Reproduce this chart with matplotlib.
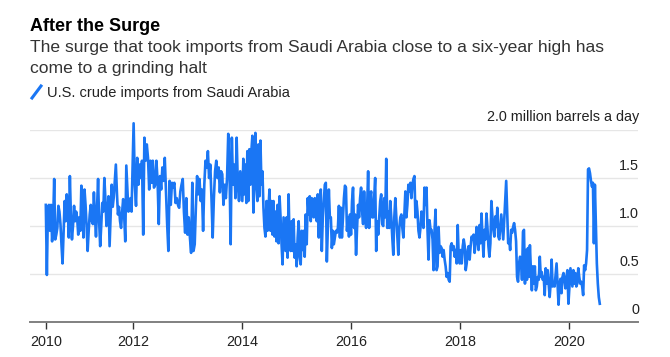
import matplotlib.pyplot as plt
from matplotlib.lines import Line2D
import pandas as pd

plt.rcParams['font.family'] = ['Liberation Sans', 'DejaVu Sans']

# weekly U.S. crude imports from Saudi Arabia, million barrels a day
imports_2010 = [1.22, 0.49, 1.18, 1.22, 0.95, 1.22, 0.84, 1.05, 1.49, 0.86,
                0.91, 0.98, 1.21, 1.15, 1.02, 0.80, 0.61, 0.95, 1.26, 1.05,
                1.33, 1.20, 0.88, 1.52, 1.10, 0.86, 1.00, 1.21, 1.05, 1.15,
                1.08, 0.91, 1.09, 0.95, 1.42, 1.20, 0.88, 1.38, 1.22, 1.00,
                0.74, 0.95, 1.12, 1.22, 1.05, 1.02, 1.35, 1.10, 0.89, 1.20,
                1.49, 1.05, 0.79, 1.00, 1.24, 1.15, 1.50, 1.28, 1.00, 1.12,
                1.31, 0.79, 1.10, 1.43, 1.20, 1.30, 1.47, 1.64, 1.35, 1.12,
                1.20, 1.05, 0.98, 1.15, 1.28, 1.10, 0.84, 1.63, 1.40, 1.15,
                1.20, 1.29, 1.15]
imports_2012 = [2.07, 1.43, 1.21, 1.71, 1.43, 1.64, 1.50, 1.68, 0.91, 1.92,
                1.68, 1.85, 1.71, 1.38, 1.68, 1.45, 1.68, 1.40, 1.43, 1.68,
                1.47, 1.02, 1.52, 1.38, 1.61, 1.47, 1.71, 1.35, 1.02, 0.74,
                1.47, 1.22, 1.45, 1.40, 1.45, 1.24, 1.29, 1.22, 1.19, 1.36,
                1.43, 1.49, 1.15, 0.93, 1.29, 0.91, 1.09, 0.88, 0.72, 1.45,
                0.74, 0.81, 1.21, 1.52, 1.33, 1.49, 1.26, 1.38, 0.95, 1.43,
                1.68, 1.61, 1.78, 1.50, 1.64, 1.29, 0.88, 1.29, 1.57, 1.68,
                1.50, 1.61, 1.35, 1.57, 1.54, 1.22, 1.43, 1.29, 1.50, 1.96,
                1.61, 0.81, 1.92, 1.43, 1.64, 1.29, 1.92, 1.43, 1.26, 1.57]
imports_2014 = [1.26, 1.70, 1.33, 1.64, 1.24, 1.78, 1.26, 1.80, 1.43, 1.78,
                1.94, 1.14, 1.50, 1.97, 1.43, 1.26, 1.85, 1.31, 1.89, 1.43,
                1.57, 1.19, 0.98, 0.89, 1.26, 0.95, 1.19, 1.38, 0.95, 1.26,
                0.91, 1.26, 0.89, 1.15, 0.84, 1.22, 0.82, 1.31, 1.09, 0.81,
                0.60, 1.09, 0.91, 0.74, 1.09, 0.67, 1.33, 0.81, 0.74, 1.05,
                0.74, 1.07, 0.67, 0.81, 0.58, 0.88, 1.05, 0.67, 0.60, 0.95,
                0.75, 0.95, 0.68, 1.12, 0.81, 1.29, 1.12, 1.31, 1.05, 1.29,
                1.26, 1.09, 1.29, 1.26, 1.05, 1.33, 0.88, 1.22, 1.38, 0.74,
                1.09, 1.26, 1.43, 1.45, 0.63, 0.98, 1.38, 1.09, 1.09, 0.77,
                0.95, 0.81, 0.88, 0.95, 0.93, 0.98, 1.21, 0.88, 1.19, 0.88,
                1.09, 1.29, 1.42, 1.40, 0.95, 1.09, 0.89, 1.12]
imports_2016 = [0.91, 1.26, 1.40, 0.98, 1.12, 0.70, 0.98, 1.22, 1.09, 1.29,
                1.40, 1.15, 1.02, 1.36, 1.09, 0.98, 1.19, 1.57, 0.98, 1.29,
                1.36, 1.09, 1.09, 1.29, 1.50, 0.74, 1.05, 0.91, 1.09, 1.26,
                1.33, 1.02, 1.00, 1.29, 1.09, 1.70, 0.98, 1.15, 0.98, 1.26,
                1.09, 0.88, 0.70, 1.09, 1.29, 1.09, 0.88, 0.70, 0.98, 1.09,
                1.12, 0.98, 0.88, 1.12, 1.36, 1.09, 1.22, 1.43, 1.36, 1.45,
                1.29, 1.43, 1.49, 1.52, 1.09, 1.26, 1.15, 0.95, 0.88, 0.98,
                1.15, 1.05, 0.98, 1.40, 1.22, 1.40, 0.96, 0.65, 1.06, 0.96,
                0.96, 0.86, 0.54, 0.96, 1.17, 0.54, 0.58, 0.99, 0.72, 0.79,
                0.77, 0.68, 0.75, 0.65, 0.58, 0.47, 0.51, 0.44, 0.42, 0.79,
                0.82, 0.75, 0.79, 0.68, 0.75, 0.61, 1.01, 0.68, 0.61]
imports_2018 = [0.75, 0.61, 0.79, 0.86, 0.79, 0.54, 0.61, 0.75, 0.79, 0.65,
                0.79, 0.89, 0.86, 0.91, 0.72, 0.82, 0.99, 0.89, 0.75, 1.01,
                0.82, 1.13, 0.89, 0.68, 0.96, 0.86, 1.13, 0.99, 0.79, 0.68,
                0.82, 1.26, 1.10, 0.96, 0.89, 1.10, 0.99, 1.19, 0.89, 0.86,
                0.99, 1.12, 0.99, 0.86, 1.06, 1.24, 1.47, 1.13, 0.82, 0.86,
                0.75, 0.96, 0.93, 0.99, 1.03, 0.96, 0.84, 0.47, 0.42, 0.61,
                0.68, 0.65, 0.44, 0.94, 0.96, 0.40, 0.75, 0.44, 0.77, 0.47,
                0.80, 0.54, 0.33, 0.58, 0.40, 0.58, 0.33, 0.37, 0.47, 0.44,
                0.68, 0.47, 0.52, 0.44, 0.47, 0.28, 0.56, 0.40, 0.54, 0.40,
                0.26, 0.40, 0.65, 0.37, 0.40, 0.37, 0.49, 0.61, 0.40, 0.18,
                0.40, 0.45, 0.30, 0.47, 0.51, 0.44, 0.35, 0.47, 0.54, 0.19]
imports_2020 = [0.37, 0.56, 0.47, 0.37, 0.54, 0.40, 0.51, 0.37, 0.40, 0.56,
                0.47, 0.40, 0.42, 0.37, 0.28, 0.59, 0.54, 0.61, 0.75, 1.59,
                1.60, 1.55, 1.47, 1.41, 1.45, 0.82, 1.43, 1.03, 0.61, 0.40,
                0.26, 0.19]

# first and last week covered by each block
block_start = ['2010-05-28', '2012-01-06', '2014-01-03', '2016-01-01', '2018-01-05', '2020-01-03']
block_end = ['2011-12-23', '2013-12-20', '2015-12-25', '2017-12-29', '2019-12-27', '2020-07-24']
blocks = [imports_2010, imports_2012, imports_2014, imports_2016, imports_2018, imports_2020]

x_ticks = ['2010-05-28', '2012-01-01', '2014-01-01', '2016-01-01', '2018-01-01', '2020-01-01']
x_labels = ['2010', '2012', '2014', '2016', '2018', '2020']
y_ticks = [0, 0.5, 1.0, 1.5, 2.0]
y_labels = ['0', '0.5', '1.0', '1.5', '2.0 million barrels a day']

parts = []
for s, e, vals in zip(block_start, block_end, blocks):
    parts.append(pd.Series(vals, index=pd.date_range(s, e, periods=len(vals))))
df = pd.concat(parts)

blue = '#1a76f4'
W, H = 670, 357

fig = plt.figure(figsize=(W / 100, H / 100), dpi=100)
ax = fig.add_axes([30 / W, 1 - 322 / H, 608 / W, 192 / H])

ax.plot(df.index, df.values, color=blue, lw=1.9, clip_on=False, zorder=3)

ax.set_ylim(0, 2.0)
ax.set_xlim(pd.Timestamp('2010-02-11'), pd.Timestamp('2021-04-06'))
ax.set_yticks(y_ticks)
ax.tick_params(axis='y', length=0, labelleft=False)
ax.grid(axis='y', color='#e6e6e6', lw=1)
ax.set_axisbelow(True)
for side in ['top', 'left', 'right']:
    ax.spines[side].set_visible(False)
ax.spines['bottom'].set_color('#808080')
ax.spines['bottom'].set_linewidth(1.4)
ax.spines['bottom'].set_zorder(4)

ax.set_xticks(pd.to_datetime(x_ticks))
ax.set_xticklabels(x_labels)
ax.tick_params(axis='x', length=5, width=1, color='#333333', labelsize=10.4,
               labelcolor='#222222', pad=4)

for v, lab in zip(y_ticks, y_labels):
    ax.annotate(lab, xy=(1, v), xycoords=('axes fraction', 'data'), xytext=(1, 8.5),
                textcoords='offset pixels', ha='right', va='baseline',
                fontsize=10.4, color='#222222')

# title block
fig.text(30 / W, 1 - 30.7 / H, 'After the Surge', fontsize=13, fontweight='bold',
         color='#000000', va='baseline')
fig.text(30 / W, 1 - 51.7 / H, 'The surge that took imports from Saudi Arabia close to a six-year high has',
         fontsize=12.6, color='#333333', va='baseline')
fig.text(30 / W, 1 - 72.7 / H, 'come to a grinding halt', fontsize=12.6, color='#333333', va='baseline')

# legend
fig.add_artist(Line2D([32 / W, 41 / W], [1 - 98 / H, 1 - 86 / H], transform=fig.transFigure,
                      color=blue, lw=2.2))
fig.text(47 / W, 1 - 96.7 / H, 'U.S. crude imports from Saudi Arabia', fontsize=10.5,
         color='#222222', va='baseline')

fig.savefig('out.png', dpi=100)
